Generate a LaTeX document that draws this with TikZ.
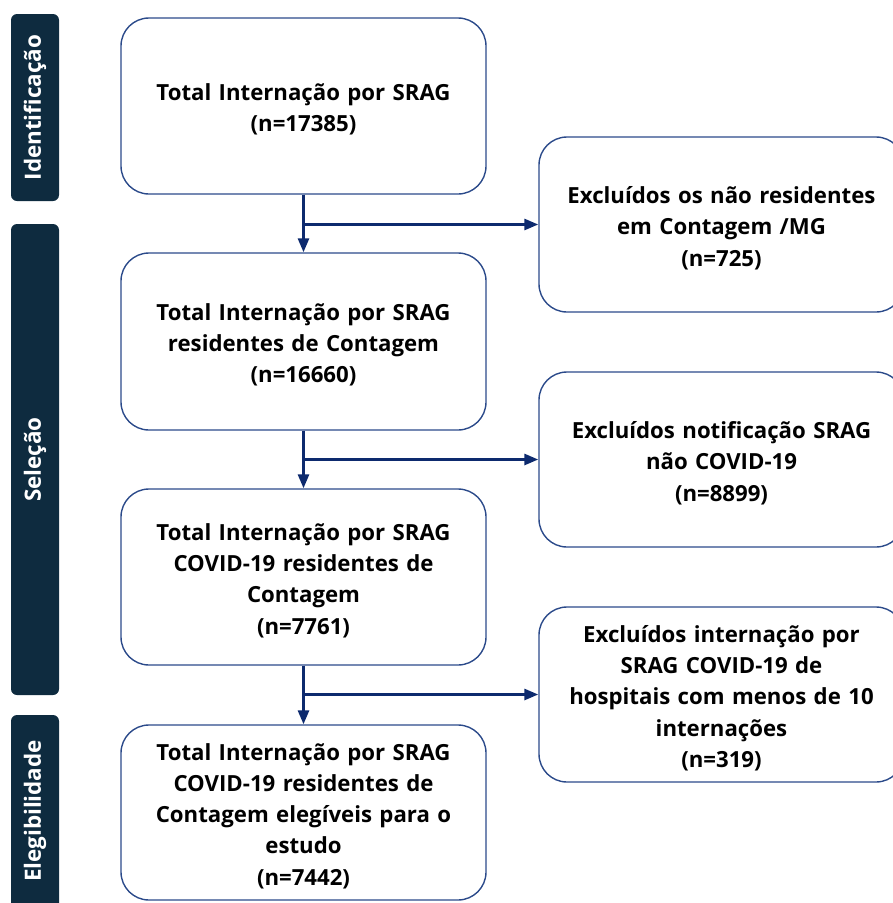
\documentclass[tikz,border=0pt]{standalone}
\usepackage{fontspec}
\setmainfont{Open Sans}
\usetikzlibrary{arrows.meta,calc}
\definecolor{barnavy}{HTML}{0E2B3F}
\definecolor{boxline}{HTML}{2B4A8A}
\definecolor{arrnavy}{HTML}{0D2A6E}
\begin{document}
\begin{tikzpicture}[x=1pt,y=-1pt,
  flowbox/.style={draw=boxline,line width=1.4pt,rounded corners=28pt,
    minimum width=365pt,minimum height=176pt,inner sep=0pt},
  boxtext/.style={align=center,inner sep=0pt,text width=350pt,yshift=-3.5pt,
    font=\bfseries\fontsize{22.2}{31.3}\selectfont},
  phasebar/.style={fill=barnavy,draw=none,rounded corners=6pt,minimum height=48pt,
    inner sep=0pt,text=white,font=\bfseries\fontsize{22.4}{24}\selectfont,rotate=90},
  flowarrow/.style={draw=arrnavy,line width=2.8pt,-{Triangle[length=14pt,width=11pt]}}]
\useasboundingbox (0,0) rectangle (893,903);
\begin{scope}
\clip (0,0) rectangle (893,903);
% phase bars
\node[phasebar,minimum width=187pt] (s1) at (35,107.5) {Identificação};
\node[phasebar,minimum width=471pt] (s2) at (35,459.5) {Seleção};
\node[phasebar,minimum width=200pt] (s3) at (35,815) {};
\node[text=white,font=\bfseries\fontsize{22.4}{24}\selectfont,rotate=90] (s3t) at (35,811) {Elegibilidade};
% main boxes
\node[flowbox,label={[boxtext,name=b1t]center:{Total Internação por SRAG\\(n=17385)}}] (b1) at (303.5,106) {};
\node[flowbox,minimum height=177pt,label={[boxtext,name=b2t]center:{Total Internação por SRAG\\residentes de Contagem\\(n=16660)}}] (b2) at (303.5,341.5) {};
\node[flowbox,label={[boxtext,name=b3t]center:{Total Internação por SRAG\\COVID-19 residentes de\\Contagem\\(n=7761)}}] (b3) at (303.5,577) {};
\node[flowbox,minimum height=175pt,label={[boxtext,name=b4t]center:{Total Internação por SRAG\\COVID-19 residentes de\\Contagem elegíveis para o\\estudo\\(n=7442)}}] (b4) at (303.5,812.5) {};
% right boxes
\node[flowbox,minimum height=175pt,label={[boxtext,name=r1t]center:{Excluídos os não residentes\\em Contagem /MG\\(n=725)}}] (r1) at (721.5,224.5) {};
\node[flowbox,minimum height=175pt,label={[boxtext,name=r2t]center:{Excluídos notificação SRAG\\não COVID-19\\(n=8899)}}] (r2) at (721.5,459.5) {};
\node[flowbox,minimum height=175pt,label={[boxtext,name=r3t]center:{Excluídos internação por\\SRAG COVID-19 de\\hospitais com menos de 10\\internações\\(n=319)}}] (r3) at (721.5,694.5) {};
\end{scope}
% connectors
\coordinate (j1) at (b1.south |- r1.west);
\coordinate (j2) at (b2.south |- r2.west);
\coordinate (j3) at (b3.south |- r3.west);
\draw[flowarrow] (b1.south) -- (b2.north);
\draw[flowarrow] (b2.south) -- (b3.north);
\draw[flowarrow] (b3.south) -- (b4.north);
\draw[flowarrow] ($(j1)+(-1.4,0)$) -- (r1.west);
\draw[flowarrow] ($(j2)+(-1.4,0)$) -- (r2.west);
\draw[flowarrow] ($(j3)+(-1.4,0)$) -- (r3.west);
\end{tikzpicture}
\end{document}
